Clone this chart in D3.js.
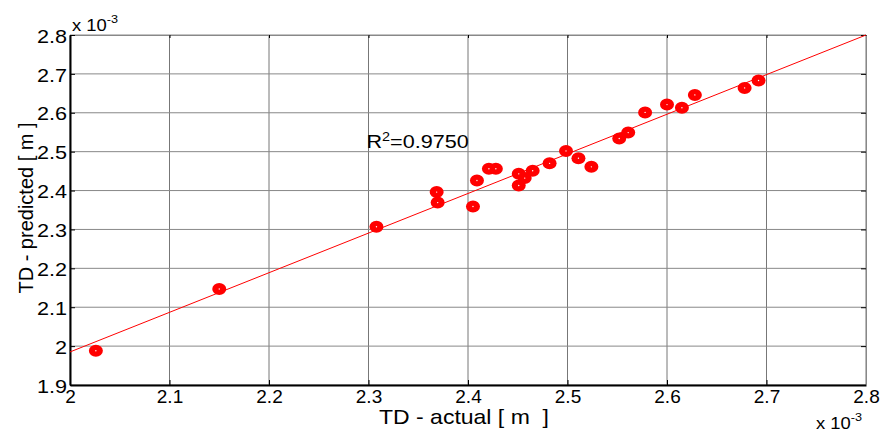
<!DOCTYPE html>
<html>
<head>
<meta charset="utf-8">
<style>
    body { margin: 0; background: #fff; }
    text { font-family: "Liberation Sans", Arial, sans-serif; fill: #000; }
</style>
</head>
<body>
<div id="chartArea"></div>
<script src="https://cdnjs.cloudflare.com/ajax/libs/d3/7.8.5/d3.min.js"></script>
<script>
    // values in units of 1e-3 m
    var actual = [2.026, 2.150, 2.308, 2.3685, 2.3695, 2.405, 2.409, 2.421, 2.428,
                  2.451, 2.451, 2.457, 2.465, 2.482, 2.4985, 2.511, 2.524, 2.552,
                  2.561, 2.578, 2.600, 2.615, 2.628, 2.678, 2.692];
    var predicted = [1.988, 2.147, 2.307, 2.396, 2.369, 2.359, 2.426, 2.456, 2.456,
                     2.443, 2.413, 2.432, 2.451, 2.470, 2.502, 2.483, 2.461, 2.534,
                     2.549, 2.601, 2.621, 2.613, 2.646, 2.664, 2.683];
    var fitX = [2.0, 2.8];
    var fitY = [1.985, 2.8];
    var xTicks = [2, 2.1, 2.2, 2.3, 2.4, 2.5, 2.6, 2.7, 2.8];
    var yTicks = [1.9, 2, 2.1, 2.2, 2.3, 2.4, 2.5, 2.6, 2.7, 2.8];
    var r2Label = "0.9750";

    var width = 881, height = 432;
    var margin = {top: 35, right: 15, bottom: 47, left: 70},
        cWidth = width - margin.left - margin.right,
        cHeight = height - margin.top - margin.bottom;

    var svg = d3.select("#chartArea").append("svg")
        .attr("width", width)
        .attr("height", height);
    var g = svg.append("g")
        .attr("transform", "translate(" + margin.left + "," + margin.top + ")");

    var x = d3.scaleLinear().domain([2, 2.8]).range([0, cWidth]);
    var y = d3.scaleLinear().domain([1.9, 2.8]).range([cHeight, 0]);
    var fmt = function(d) { return String(+d.toFixed(1)); };

    // grid
    g.selectAll(".gx").data(xTicks).enter().append("line")
        .attr("x1", x).attr("x2", x).attr("y1", 0).attr("y2", cHeight)
        .attr("stroke", "#777").attr("stroke-width", 1);
    g.selectAll(".gy").data(yTicks).enter().append("line")
        .attr("y1", y).attr("y2", y).attr("x1", 0).attr("x2", cWidth)
        .attr("stroke", "#888").attr("stroke-width", 1);

    // axes
    var xAxis = g.append("g").attr("transform", "translate(0," + cHeight + ")")
        .call(d3.axisBottom(x).tickValues(xTicks).tickFormat(fmt).tickSizeInner(-5).tickSizeOuter(0).tickPadding(7));
    var xTop = g.append("g")
        .call(d3.axisTop(x).tickValues(xTicks).tickFormat("").tickSizeInner(-3).tickSizeOuter(0));
    var yAxis = g.append("g")
        .call(d3.axisLeft(y).tickValues(yTicks).tickFormat(fmt).tickSizeInner(-5).tickSizeOuter(0).tickPadding(3));
    var yRight = g.append("g").attr("transform", "translate(" + cWidth + ",0)")
        .call(d3.axisRight(y).tickValues(yTicks).tickFormat("").tickSizeInner(-5).tickSizeOuter(0));
    [xAxis, yAxis].forEach(function(a) {
        a.select(".domain").attr("stroke", "#000").attr("stroke-width", 2);
        a.selectAll("text")
            .style("font-family", "'Liberation Sans', Arial, sans-serif");
    });
    [xTop, yRight].forEach(function(a) {
        a.select(".domain").attr("stroke", "#888");
    });
    xAxis.selectAll("text").style("font-size", "19px").attr("dy", "0.6em");
    // y tick labels are drawn a bit wider in the original
    yAxis.selectAll(".tick text").style("font-size", "18px")
        .attr("x", null).attr("dy", "0.4em").attr("text-anchor", "end")
        .attr("transform", "translate(-3,0) scale(1.2,1)");

    // fit line
    g.append("line")
        .attr("x1", x(fitX[0])).attr("y1", y(fitY[0]))
        .attr("x2", x(fitX[1])).attr("y2", y(fitY[1]))
        .attr("stroke", "#f00").attr("stroke-width", 1);

    // points
    var pts = d3.range(actual.length);
    g.selectAll(".pt").data(pts).enter().append("ellipse")
        .attr("cx", function(i) { return x(actual[i]); })
        .attr("cy", function(i) { return y(predicted[i]); })
        .attr("rx", 7).attr("ry", 6)
        .attr("fill", "#f00");
    g.selectAll(".pc").data(pts).enter().append("circle")
        .attr("cx", function(i) { return x(actual[i]); })
        .attr("cy", function(i) { return y(predicted[i]); })
        .attr("r", 0.7).attr("fill", "#fff");

    // R^2 text
    var rt = g.append("text")
        .attr("transform", "translate(" + x(2.298) + "," + y(2.51) + ") scale(1.2,1)")
        .style("font-size", "18px");
    rt.append("tspan").text("R");
    rt.append("tspan").attr("dy", -7).style("font-size", "12px").text("2");
    rt.append("tspan").attr("dy", 7).text("=" + r2Label);

    // exponents
    function expo(px, py) {
        var e = svg.append("text").attr("transform", "translate(" + px + "," + py + ") scale(1.15,1)")
            .style("font-size", "16px");
        e.append("tspan").text("x 10");
        e.append("tspan").attr("dy", -8).style("font-size", "11px").text("-3");
    }
    expo(72, 31);
    expo(816, 429);

    // axis labels
    svg.append("text").attr("transform", "translate(464,424) scale(1.15,1)").attr("text-anchor", "middle")
        .style("font-size", "20px").style("white-space", "pre").text("TD - actual [ m  ]");
    svg.append("text").attr("transform", "translate(33,208) rotate(-90)")
        .attr("text-anchor", "middle").style("font-size", "20px")
        .text("TD - predicted [ m ]");
</script>
</body>
</html>
